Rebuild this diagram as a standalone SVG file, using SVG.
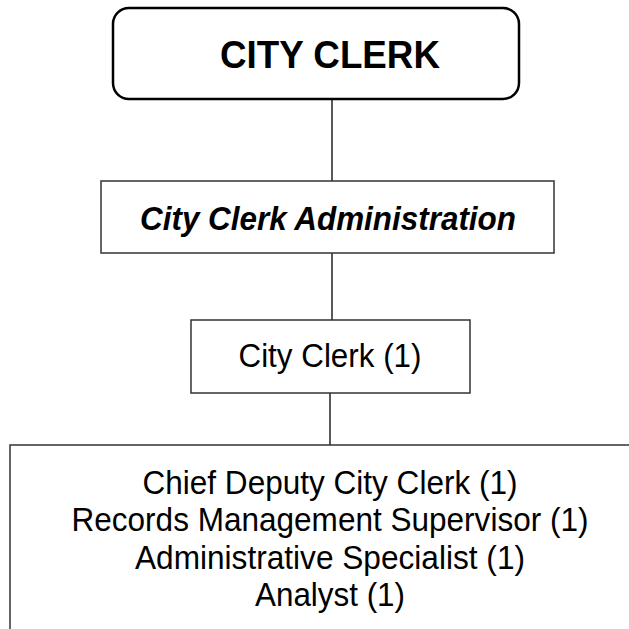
<svg xmlns="http://www.w3.org/2000/svg" width="629" height="629" viewBox="0 0 629 629">
<style>
.t{font-family:"Liberation Sans",Arial,sans-serif;fill:#000;text-anchor:middle}
.box{fill:#fff;stroke:#333;stroke-width:1.5}
.con{stroke:#000;stroke-width:1.3;fill:none}
</style>
<rect width="629" height="629" fill="#fff"/>
<g id="connectors">
<line class="con" x1="332" y1="99" x2="332" y2="181"/>
<line class="con" x1="332" y1="253" x2="332" y2="320"/>
<line class="con" x1="330" y1="393" x2="330" y2="445"/>
</g>
<g id="city-clerk-top">
<rect x="113" y="8" width="406" height="91" rx="16" ry="16" fill="#fff" stroke="#000" stroke-width="2.5"/>
<text class="t" x="330" y="68" font-size="38" font-weight="bold" textLength="220" lengthAdjust="spacingAndGlyphs">CITY CLERK</text>
</g>
<g id="administration">
<rect class="box" x="101" y="181" width="453" height="72"/>
<text class="t" x="328" y="230" font-size="33" font-weight="bold" font-style="italic" textLength="376" lengthAdjust="spacingAndGlyphs">City Clerk Administration</text>
</g>
<g id="city-clerk">
<rect class="box" x="191" y="320" width="279" height="73"/>
<text class="t" x="330" y="367" font-size="33" textLength="183" lengthAdjust="spacingAndGlyphs">City Clerk (1)</text>
</g>
<g id="staff">
<rect class="box" x="10" y="445" width="640" height="200"/>
<text class="t" x="330" y="494" font-size="33" textLength="375" lengthAdjust="spacingAndGlyphs">Chief Deputy City Clerk (1)</text>
<text class="t" x="330" y="531" font-size="33" textLength="517" lengthAdjust="spacingAndGlyphs">Records Management Supervisor (1)</text>
<text class="t" x="330" y="569" font-size="33" textLength="390" lengthAdjust="spacingAndGlyphs">Administrative Specialist (1)</text>
<text class="t" x="330" y="606" font-size="33" textLength="150" lengthAdjust="spacingAndGlyphs">Analyst (1)</text>
</g>
</svg>
